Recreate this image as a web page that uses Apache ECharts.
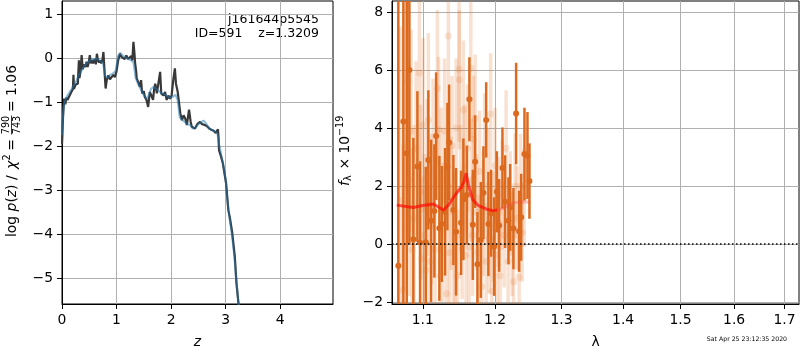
<!DOCTYPE html>
<html>
<head>
<meta charset="utf-8">
<script src="https://cdn.jsdelivr.net/npm/echarts@6/dist/echarts.min.js"></script>
<style>html,body{margin:0;padding:0;background:#fff}#main{width:800px;height:350px}</style>
</head>
<body>
<div id="main"></div>
<script>
// left panel: log p(z)
const zDark = [0.000,0.006,0.02,0.04,0.06,0.08,0.10,0.116,0.14,0.16,0.18,0.20,0.21,0.22,0.25,0.27,0.29,0.31,0.32,0.34,0.36,0.38,0.40,0.43,0.45,0.47,0.49,0.51,0.53,0.55,0.57,0.60,0.62,0.64,0.66,0.68,0.70,0.72,0.74,0.76,0.78,0.80,0.82,0.85,0.88,0.91,0.94,0.97,1.00,1.03,1.06,1.09,1.12,1.15,1.18,1.21,1.24,1.27,1.29,1.31,1.33,1.34,1.36,1.37,1.40,1.43,1.45,1.47,1.50,1.52,1.55,1.58,1.61,1.64,1.67,1.69,1.71,1.74,1.77,1.80,1.82,1.86,1.89,1.92,1.95,1.98,2.01,2.04,2.07,2.09,2.12,2.14,2.17,2.20,2.23,2.26,2.29,2.33,2.36,2.38,2.41,2.44,2.48,2.53,2.57,2.62,2.66,2.70,2.74,2.78,2.82,2.84,2.86,2.87,2.88,2.92,2.95,3.01,3.05,3.08,3.10,3.12,3.17,3.20,3.25];
const pDark = [-1.95,-1.79,-1.3,-0.92,-1.05,-0.9,-0.95,-0.99,-0.85,-0.8,-0.77,-0.7,-0.38,-0.7,-0.6,-0.62,-0.58,-0.05,-0.45,-0.3,0.07,-0.25,-0.15,-0.2,-0.08,-0.2,-0.1,0.07,-0.12,-0.05,-0.12,-0.02,-0.14,0.1,-0.05,-0.1,-0.05,-0.12,-0.05,0.14,-0.3,-0.69,-0.5,-0.39,-0.48,-0.5,-0.38,-0.43,-0.3,-0.05,0.1,0.03,0.02,-0.02,0.06,-0.02,-0.05,0.05,-0.05,0.37,0.1,-0.1,-0.3,-0.46,-0.55,-0.65,-0.5,-0.8,-0.75,-0.88,-0.95,-1.11,-0.77,-0.85,-0.95,-0.7,-0.58,-0.8,-0.77,-0.31,-0.8,-0.85,-0.77,-0.95,-0.85,-0.92,-0.85,-0.5,-0.23,-0.58,-0.75,-0.95,-1.25,-1.41,-1.3,-1.37,-1.52,-1.17,-1.45,-1.56,-1.55,-1.6,-1.5,-1.45,-1.5,-1.52,-1.55,-1.6,-1.63,-1.65,-1.7,-1.67,-1.62,-1.79,-2.09,-2.25,-2.39,-2.85,-3.45,-3.64,-3.64,-3.95,-4.52,-5.12,-5.75];
const zBlue = [0.00,0.03,0.06,0.10,0.15,0.20,0.25,0.30,0.35,0.40,0.45,0.50,0.55,0.60,0.65,0.70,0.75,0.79,0.83,0.88,0.93,0.98,1.03,1.07,1.12,1.17,1.22,1.27,1.31,1.35,1.40,1.45,1.50,1.55,1.59,1.63,1.68,1.73,1.78,1.83,1.88,1.93,1.98,2.03,2.08,2.12,2.16,2.20,2.25,2.30,2.35,2.40,2.45,2.50,2.55,2.60,2.65,2.70,2.75,2.80,2.85,2.88,2.92,2.96,3.00,3.04,3.08,3.12,3.16,3.20,3.25];
const pBlue = [-1.75,-1.1,-0.95,-0.85,-0.75,-0.65,-0.55,-0.4,-0.3,-0.2,-0.12,-0.07,-0.02,-0.03,-0.01,-0.06,-0.1,-0.4,-0.45,-0.38,-0.35,-0.3,0.05,0.12,0.05,0.02,-0.02,-0.05,-0.1,-0.45,-0.6,-0.72,-0.85,-0.92,-0.85,-0.7,-0.65,-0.7,-0.75,-0.8,-0.82,-0.86,-0.9,-0.88,-0.83,-0.95,-1.35,-1.4,-1.45,-1.5,-1.52,-1.6,-1.58,-1.5,-1.45,-1.42,-1.5,-1.6,-1.63,-1.66,-1.72,-1.95,-2.2,-2.45,-2.75,-3.3,-3.7,-4.05,-4.5,-5.1,-5.75];

// right panel: spectrum
const lamDark = [1.0681,1.0746,1.0790,1.0824,1.0876,1.0929,1.0964,1.1040,1.1074,1.1111,1.1155,1.1178,1.1222,1.1255,1.1299,1.1331,1.1354,1.1413,1.1450,1.1519,1.1551,1.1599,1.1635,1.1683,1.1715,1.1748,1.1796,1.1833,1.1872,1.1904,1.1943,1.1987,1.2026,1.2059,1.2107,1.2146,1.2195,1.2220,1.2268,1.2308,1.2353,1.2383,1.2432,1.2477,1.2507];
const fDark = [-0.75,4.22,3.13,6.0,0.16,2.67,0.05,0.06,2.9,0.8,1.14,3.72,0.54,0.69,1.11,2.67,3.5,1.17,0.42,0.73,1.54,1.69,4.99,0.66,2.84,-0.70,0.14,1.77,4.28,0.69,1.06,-0.09,1.8,0.64,2.62,1.46,0.8,1.26,0.53,4.5,0.44,0.92,3.1,3.05,2.17];
const eDark = [10,9,8,6,3.5,2.6,2.8,2.6,2.4,2.8,2.3,2.2,2.5,2.0,2.2,2.2,2.0,1.9,2.2,1.8,2.1,1.7,1.45,1.9,1.6,1.8,2.0,1.6,1.3,1.8,1.5,1.7,1.4,1.6,1.4,1.6,1.5,1.5,1.4,1.75,1.4,1.5,1.6,1.5,1.3];

const lamLight = [1.0703,1.0742,1.0768,1.0803,1.0820,1.0846,1.0859,1.0885,1.0911,1.0955,1.0971,1.0984,1.1004,1.1024,1.1044,1.1057,1.1074,1.1097,1.1117,1.1137,1.1164,1.1195,1.1212,1.1232,1.1245,1.1272,1.1292,1.1322,1.1344,1.1361,1.1382,1.1395,1.1416,1.1436,1.1450,1.1470,1.1491,1.1495,1.1512,1.1533,1.1551,1.1568,1.1589,1.1610,1.1631,1.1655,1.1666,1.1680,1.1694,1.1715,1.1736,1.1758,1.1779,1.1810,1.1829,1.1850,1.1872,1.1893,1.1915,1.1936,1.1953,1.1972,1.2001,1.2030,1.2051,1.2073,1.2102,1.2131,1.2161,1.2190,1.2220,1.2249,1.2271,1.2293,1.2323,1.2353,1.2375,1.2398,1.2427];
const fLight = [1.5,-1.6,3.4,5.6,2.2,3.9,-0.2,0.9,3.3,5.9,1.8,-0.5,4.1,0.3,-0.9,2.3,4.28,-0.6,1.2,3.1,-0.2,5.37,3.95,-1.1,2.2,0.4,3.9,-1.72,7.17,-0.3,1.4,3.4,-0.6,0.2,4.0,-1.1,6.03,5.66,1.9,0.3,4.62,2.6,-0.4,3.3,-0.1,6.06,2.2,0.3,3.6,4.33,1.1,-0.3,2.5,-1.47,0.9,3.1,-0.6,2.0,0.2,4.48,-1.64,0.6,2.7,-0.4,1.1,-1.1,1.7,0.3,3.3,-0.6,1.4,0.0,-1.3,2.0,0.9,-1.15,2.0,0.4,1.6];
const eLight = [6,5,5,4,4,3.5,3.5,3.2,3,3.2,3,2.8,3,2.8,2.8,2.7,3,2.6,2.6,2.6,2.5,2.7,2.5,2.5,2.5,2.4,2.5,2.4,2.6,2.4,2.3,2.4,2.3,2.3,2.4,2.3,2.5,2.4,2.2,2.2,2.4,2.2,2.2,2.2,2.1,2.4,2.1,2.1,2.2,2.2,2.0,2.0,2.1,2.0,2.0,2.1,2.0,2.0,1.9,2.1,1.9,1.9,2.0,1.9,1.9,1.9,1.9,1.8,2.0,1.8,1.8,1.8,1.8,1.8,1.8,1.7,1.8,1.7,1.7];

const lamModel = [1.0660,1.0875,1.1000,1.1142,1.1277,1.1344,1.1436,1.1528,1.1560,1.1589,1.1612,1.1635,1.1683,1.1763,1.1880,1.1975,1.2030];
const fModel = [1.34,1.26,1.33,1.38,1.17,1.34,1.69,1.98,2.15,2.44,2.15,1.92,1.52,1.32,1.2,1.15,1.17];
const lamModel2 = [1.2030,1.2121,1.2244,1.2368,1.2517];
const fModel2 = [1.17,1.23,1.40,1.46,1.44];

const zTicks = [0,1,2,3,4];
const pTicks = [-5,-4,-3,-2,-1,0,1];
const lamTicks = [1.1,1.2,1.3,1.4,1.5,1.6,1.7];
const fTicks = [-2,0,2,4,6,8];

const FONT = 'DejaVu Sans';
const ORANGE = '#dc6a1e';
const LIGHT = 'rgba(228,120,45,0.22)';

function lg(v) { return Math.log10(v); }
function minus(v) { return String(v).replace('-', '\u2212'); }

function axisCommon(ticks, fmt) {
  return {
    axisLine: { show: true, onZero: false, lineStyle: { color: '#000', width: 1 } },
    axisTick: { show: true, inside: false, length: 5, customValues: ticks, lineStyle: { color: '#000', width: 1 } },
    axisLabel: { customValues: ticks, fontFamily: FONT, fontSize: 13.9, color: '#000', margin: 9, formatter: fmt },
    splitLine: { show: true, lineStyle: { color: '#b0b0b0', width: 1 } }
  };
}

function errBars(lam, f, e, color, width) {
  return {
    type: 'custom', xAxisIndex: 1, yAxisIndex: 1, silent: true,
    data: lam.map((l, i) => [lg(l), f[i], e[i]]),
    encode: { x: 0, y: 1 },
    renderItem: function (params, api) {
      const x = api.value(0), y = api.value(1), s = api.value(2);
      const cs = params.coordSys;
      const a = api.coord([x, y - s]), b = api.coord([x, y + s]);
      const top = cs.y, bot = cs.y + cs.height;
      const y1 = Math.min(bot, Math.max(top, a[1]));
      const y2 = Math.min(bot, Math.max(top, b[1]));
      return { type: 'line', shape: { x1: a[0], y1: y1, x2: b[0], y2: y2 },
               style: { stroke: color, lineWidth: width } };
    }
  };
}

const chart = echarts.init(document.getElementById('main'), null, { renderer: 'canvas' });
chart.setOption({
  animation: false,
  backgroundColor: '#fff',
  grid: [
    { left: 62, top: 1, width: 271, height: 303, outerBoundsMode: 'none', containLabel: false,
      show: true, borderColor: '#000', borderWidth: 1, backgroundColor: 'transparent' },
    { left: 392, top: 1, width: 407, height: 303, outerBoundsMode: 'none', containLabel: false,
      show: true, borderColor: '#000', borderWidth: 1, backgroundColor: 'transparent' }
  ],
  xAxis: [
    Object.assign({ type: 'value', gridIndex: 0, min: 0, max: 4.97,
      name: 'z', nameLocation: 'middle', nameGap: 31,
      nameTextStyle: { fontFamily: FONT, fontSize: 13.9, fontStyle: 'italic', color: '#000' } },
      axisCommon(zTicks, v => minus(v))),
    Object.assign({ type: 'value', gridIndex: 1, min: lg(1.06), max: lg(1.73),
      name: '\u03bb', nameLocation: 'middle', nameGap: 31,
      nameTextStyle: { fontFamily: FONT, fontSize: 13.9, color: '#000' } },
      axisCommon(lamTicks.map(lg), v => Math.pow(10, v).toFixed(1)))
  ],
  yAxis: [
    Object.assign({ type: 'value', gridIndex: 0, min: -5.59, max: 1.30 },
      axisCommon(pTicks, v => minus(Math.round(v)))),
    Object.assign({ type: 'value', gridIndex: 1, min: -2.07, max: 8.38 },
      axisCommon(fTicks, v => minus(Math.round(v))))
  ],
  series: [
    { type: 'line', xAxisIndex: 0, yAxisIndex: 0, data: zDark.map((z, i) => [z, pDark[i]]),
      showSymbol: false, lineStyle: { color: '#383838', width: 2.2 }, clip: true },
    { type: 'line', xAxisIndex: 0, yAxisIndex: 0, data: zBlue.map((z, i) => [z, pBlue[i]]),
      showSymbol: false, lineStyle: { color: '#1f77b4', width: 2, opacity: 0.5 }, clip: true },
    errBars(lamLight, fLight, eLight, LIGHT, 3.5),
    { type: 'scatter', xAxisIndex: 1, yAxisIndex: 1, data: lamLight.map((l, i) => [lg(l), fLight[i]]),
      symbolSize: 7, itemStyle: { color: LIGHT }, clip: true },
    errBars(lamDark, fDark, eDark, ORANGE, 2.5),
    { type: 'scatter', xAxisIndex: 1, yAxisIndex: 1, data: lamDark.map((l, i) => [lg(l), fDark[i]]),
      symbolSize: 6, itemStyle: { color: ORANGE, opacity: 1 }, clip: true },
    { type: 'line', xAxisIndex: 1, yAxisIndex: 1, data: lamModel.map((l, i) => [lg(l), fModel[i]]),
      showSymbol: false, lineStyle: { color: 'rgba(255,0,0,0.65)', width: 3 } },
    { type: 'line', xAxisIndex: 1, yAxisIndex: 1, data: lamModel2.map((l, i) => [lg(l), fModel2[i]]),
      showSymbol: false, lineStyle: { color: 'rgba(255,60,60,0.3)', width: 3 },
      markLine: { silent: true, symbol: 'none', label: { show: false },
        lineStyle: { color: '#000', type: [1.5, 2.5], width: 1.5 },
        data: [{ yAxis: 0 }] } }
  ],
  graphic: [
    { type: 'text', right: 800 - 319, top: 13, style: { text: 'j161644p5545', font: '12.5px "DejaVu Sans"', fill: '#000', textAlign: 'right' } },
    { type: 'text', right: 800 - 319, top: 27, style: { text: 'ID=591    z=1.3209', font: '12.5px "DejaVu Sans"', fill: '#000', textAlign: 'right' } },
    { type: 'text', right: 800 - 787, top: 336, style: { text: 'Sat Apr 25 23:12:35 2020', font: '6.2px "DejaVu Sans"', fill: '#000' } },
    { type: 'group', x: 12, y: 237, rotation: Math.PI / 2, children: [
      { type: 'text', x: 0, y: 0, style: { text: 'log ', font: '13.9px "DejaVu Sans"', fill: '#000', textVerticalAlign: 'middle' } },
      { type: 'text', x: 25.6, y: 0, style: { text: 'p', font: 'italic 13.9px "DejaVu Sans"', fill: '#000', textVerticalAlign: 'middle' } },
      { type: 'text', x: 34.4, y: 0, style: { text: '(', font: '13.9px "DejaVu Sans"', fill: '#000', textVerticalAlign: 'middle' } },
      { type: 'text', x: 39.8, y: 0, style: { text: 'z', font: 'italic 13.9px "DejaVu Sans"', fill: '#000', textVerticalAlign: 'middle' } },
      { type: 'text', x: 47.1, y: 0, style: { text: ') / ', font: '13.9px "DejaVu Sans"', fill: '#000', textVerticalAlign: 'middle' } },
      { type: 'text', x: 67.9, y: 0, style: { text: '\u03c7', font: 'italic 13.9px "DejaVu Sans"', fill: '#000', textVerticalAlign: 'middle' } },
      { type: 'text', x: 76.5, y: -5, style: { text: '2', font: '9.7px "DejaVu Sans"', fill: '#000', textVerticalAlign: 'middle' } },
      { type: 'text', x: 92, y: 0, style: { text: '=', font: '13.9px "DejaVu Sans"', fill: '#000', textAlign: 'center', textVerticalAlign: 'middle' } },
      { type: 'text', x: 112, y: -5.5, style: { text: '790', font: '9.7px "DejaVu Sans"', fill: '#000', textAlign: 'center', textVerticalAlign: 'middle' } },
      { type: 'line', shape: { x1: 102.5, y1: -0.5, x2: 121.5, y2: -0.5 }, style: { stroke: '#000', lineWidth: 0.8 } },
      { type: 'text', x: 112, y: 5, style: { text: '743', font: '9.7px "DejaVu Sans"', fill: '#000', textAlign: 'center', textVerticalAlign: 'middle' } },
      { type: 'text', x: 125, y: 0, style: { text: '= 1.06', font: '13.9px "DejaVu Sans"', fill: '#000', textVerticalAlign: 'middle' } }
    ] },
    { type: 'group', x: 345, y: 186, rotation: Math.PI / 2, children: [
      { type: 'text', x: 0, y: 0, style: { text: 'f', font: 'italic 13.9px "DejaVu Sans"', fill: '#000', textVerticalAlign: 'middle' } },
      { type: 'text', x: 5, y: 3.5, style: { text: '\u03bb', font: '9.7px "DejaVu Sans"', fill: '#000', textVerticalAlign: 'middle' } },
      { type: 'text', x: 12, y: 0, style: { text: ' \u00d7 10', font: '13.9px "DejaVu Sans"', fill: '#000', textVerticalAlign: 'middle' } },
      { type: 'text', x: 50, y: -5, style: { text: '\u221219', font: '9.7px "DejaVu Sans"', fill: '#000', textVerticalAlign: 'middle' } }
    ] }
  ]
});
</script>
</body>
</html>
